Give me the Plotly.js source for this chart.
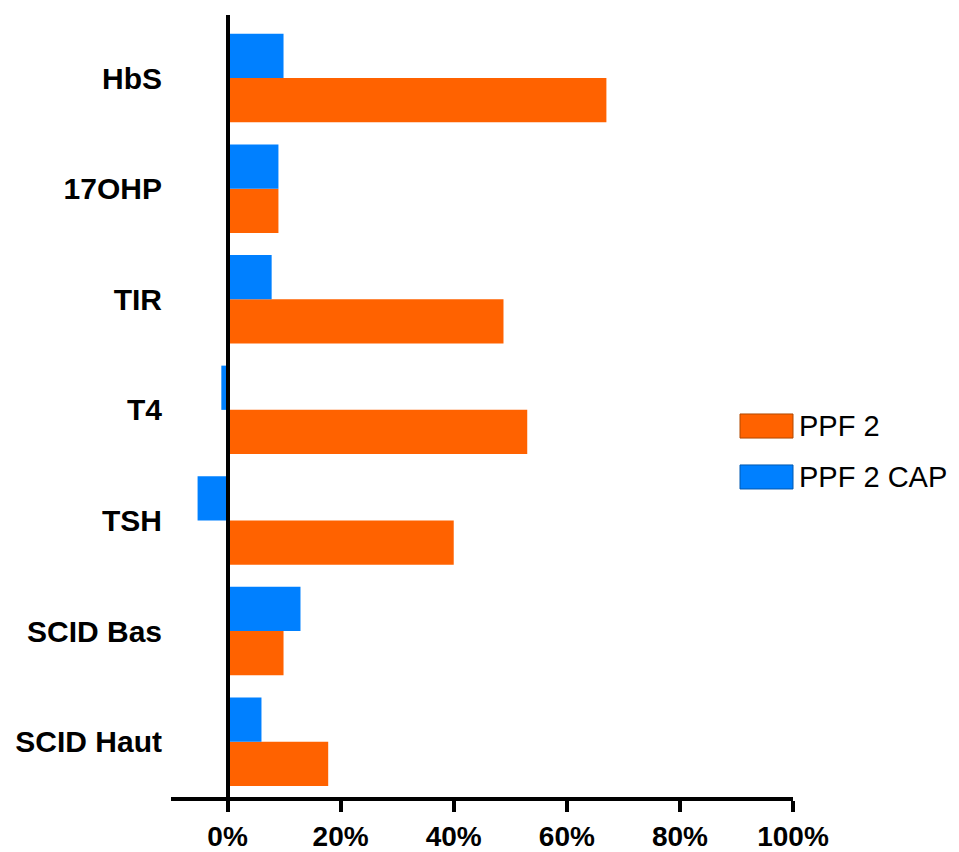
<!DOCTYPE html>
<html>
<head>
<meta charset="utf-8">
<script src="https://cdn.plot.ly/plotly-3.0.1.min.js"></script>
<style>
  html, body { margin: 0; padding: 0; background: #ffffff; }
  #chart { width: 959px; height: 852px; }
</style>
</head>
<body>
<div id="chart"></div>
<script>
// Data (percent values)
const categories = ['HbS', '17OHP', 'TIR', 'T4', 'TSH', 'SCID Bas', 'SCID Haut'];
const ppf2 = [67, 9, 48.8, 53, 40, 9.9, 17.8];
const ppf2Cap = [9.9, 9, 7.8, -1.1, -5.3, 12.9, 6];
const seriesNames = ['PPF 2', 'PPF 2 CAP'];
const xTickVals = [0, 20, 40, 60, 80, 100];

const orange = '#FF6200';
const blue = '#0080FF';
const fontFam = '"Liberation Sans", Arial, sans-serif';

const traces = [
  {
    type: 'bar', orientation: 'h', name: seriesNames[0],
    y: categories, x: ppf2,
    marker: { color: orange, line: { width: 0 } },
    hoverinfo: 'x+y+name'
  },
  {
    type: 'bar', orientation: 'h', name: seriesNames[1],
    y: categories, x: ppf2Cap,
    marker: { color: blue, line: { width: 0 } },
    hoverinfo: 'x+y+name'
  }
];

const layout = {
  width: 959, height: 852,
  margin: { l: 171, r: 166, t: 15, b: 55 },
  paper_bgcolor: '#ffffff', plot_bgcolor: '#ffffff',
  barmode: 'group', bargap: 0.2, bargroupgap: 0,
  showlegend: false,
  font: { family: fontFam, color: '#000000' },
  xaxis: {
    range: [-10, 100],
    tickvals: xTickVals,
    ticktext: xTickVals.map(v => v + '%'),
    showgrid: false,
    showline: true, linecolor: '#000000', linewidth: 4,
    ticks: 'outside', ticklen: 11, tickwidth: 4, tickcolor: '#000000',
    zeroline: true, zerolinecolor: '#000000', zerolinewidth: 4,
    zerolinelayer: 'above traces',
    tickfont: { family: fontFam, size: 28, color: '#000000', weight: 'bold' },
    fixedrange: true
  },
  yaxis: {
    type: 'category',
    categoryorder: 'array',
    categoryarray: categories.slice().reverse(),
    range: [-0.5, 6.57],
    showgrid: false, showline: false, zeroline: false,
    ticks: '', ticklabelstandoff: 8,
    tickfont: { family: fontFam, size: 30, color: '#000000', weight: 'bold' },
    fixedrange: true
  },
  shapes: [
    { type: 'rect', xref: 'paper', yref: 'paper', x0: 0.9148, x1: 1.0, y0: 0.459, y1: 0.4898,
      fillcolor: orange, line: { color: '#B04800', width: 1 } },
    { type: 'rect', xref: 'paper', yref: 'paper', x0: 0.9148, x1: 1.0, y0: 0.3939, y1: 0.4246,
      fillcolor: blue, line: { color: '#0058B0', width: 1 } }
  ],
  annotations: [
    { xref: 'paper', yref: 'paper', x: 1.007, y: 0.4744, xanchor: 'left', yanchor: 'middle',
      text: seriesNames[0], showarrow: false, font: { family: fontFam, size: 29, color: '#000000' } },
    { xref: 'paper', yref: 'paper', x: 1.007, y: 0.4093, xanchor: 'left', yanchor: 'middle',
      text: seriesNames[1], showarrow: false, font: { family: fontFam, size: 29, color: '#000000' } }
  ]
};

Plotly.newPlot('chart', traces, layout, { displayModeBar: false, staticPlot: true });
</script>
</body>
</html>
